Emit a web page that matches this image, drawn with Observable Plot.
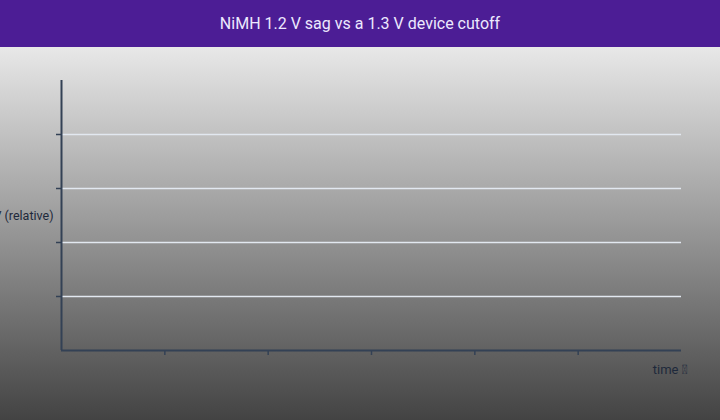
<!DOCTYPE html>
<html>
<head>
<meta charset="utf-8">
<script src="https://cdn.jsdelivr.net/npm/d3@7"></script>
<script src="https://cdn.jsdelivr.net/npm/@observablehq/plot@0.6"></script>
<style>
  html, body { margin: 0; padding: 0; width: 720px; height: 420px; overflow: hidden; font-family: Roboto, sans-serif; }
  #header { height: 47px; background: #4c1d95; color: #ede9fe; font-size: 16px; display: flex; align-items: center; justify-content: center; }
  #chart { height: 373px; background: linear-gradient(#e8e8e8, #434343); }
  #chart svg { overflow: visible; display: block; }
</style>
</head>
<body>
<div id="header">NiMH 1.2 V sag vs a 1.3 V device cutoff</div>
<div id="chart"></div>
<script>
const title = "NiMH 1.2 V sag vs a 1.3 V device cutoff";
const xDomain = [0, 6];
const yDomain = [0, 5];
const xTicks = [1, 2, 3, 4, 5];
const yTicks = [1, 2, 3, 4];
const xLabel = "time \uE000";
const yLabel = "V (relative)";

const axisColor = "#334155";
const textColor = "#1e293b";

const chart = Plot.plot({
  width: 720,
  height: 373,
  marginTop: 33,
  marginBottom: 70,
  marginLeft: 61,
  marginRight: 39,
  style: { background: "transparent", fontFamily: "Roboto, sans-serif", overflow: "visible" },
  x: { domain: xDomain },
  y: { domain: yDomain },
  marks: [
    Plot.gridY(yTicks, { stroke: "#e2e8f0", strokeOpacity: 1, strokeWidth: 1.5 }),
    Plot.axisY(yTicks, { tickFormat: () => "", tickSize: 5, stroke: axisColor, strokeWidth: 1.5, label: null }),
    Plot.axisX(xTicks, { tickFormat: () => "", tickSize: 5, stroke: axisColor, strokeWidth: 1.5, label: null }),
    Plot.ruleX([xDomain[0]], { stroke: axisColor, strokeWidth: 2 }),
    Plot.ruleY([yDomain[0]], { stroke: axisColor, strokeWidth: 2 }),
    Plot.text([yLabel], { frameAnchor: "left", dx: -8, textAnchor: "end", fill: textColor, fontSize: 12.5 }),
    Plot.text([xLabel], { frameAnchor: "bottom-right", dy: 23, dx: 6, textAnchor: "end", fill: textColor, fontSize: 13 })
  ]
});
document.getElementById("chart").appendChild(chart);
</script>
</body>
</html>
